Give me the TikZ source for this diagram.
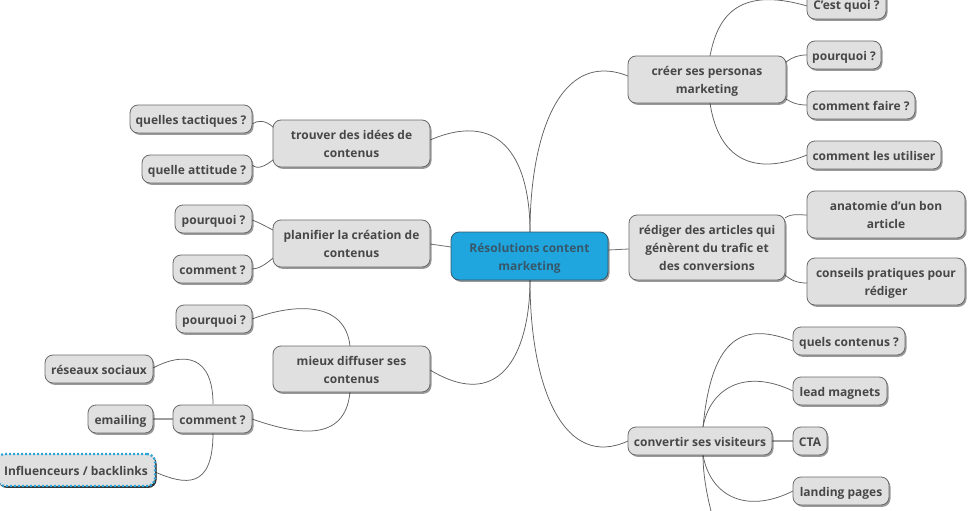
\documentclass[tikz,border=0pt]{standalone}
\usepackage{fontspec}
\setmainfont{Open Sans}
\usetikzlibrary{shadows}
\definecolor{nodefill}{HTML}{E0E0E0}
\definecolor{nodeedge}{HTML}{6A6A6A}
\definecolor{txt}{HTML}{474747}
\definecolor{rootblue}{HTML}{1FA6DE}
\definecolor{roottxt}{HTML}{37576B}
\definecolor{dotblue}{HTML}{2AA5DA}
\tikzset{
  topic/.style={draw=nodeedge,line width=0.8pt,fill=nodefill,rounded corners=8pt,text=txt,
    font=\bfseries\fontsize{12}{18}\selectfont,align=center,inner sep=0pt,
    drop shadow={shadow xshift=1.5pt,shadow yshift=-1.8pt,fill=black,opacity=0.4}},
  rootnode/.style={topic,fill=rootblue,draw=roottxt,text=roottxt},
  selected/.style={topic,draw=dotblue,line width=2.2pt,dash pattern=on 2pt off 2pt,
    drop shadow={shadow xshift=1.5pt,shadow yshift=-1.8pt,fill=black!85,opacity=0.9}},
  link/.style={draw=black!62,line width=0.75pt},
  shortlink/.style={draw=black!38,line width=1.3pt},
  thinlink/.style={draw=black!55,line width=0.8pt}
}
\newcommand{\mm}[7][topic]{%
  \node[#1,minimum width=#5pt-#3pt,minimum height=#6pt-#4pt] (#2) at ({(#3+#5)/2},{(#4+#6)/2})
    {\raisebox{-1.8pt}[\height][\depth]{\begin{tabular}{@{}c@{}}#7\end{tabular}}};}
\begin{document}
\begin{tikzpicture}[x=1pt,y=-1pt]
\useasboundingbox (0,0) rectangle (977,511);
\clip (0,0) rectangle (977,511);
\coordinate (rootN) at (530,232);
\coordinate (rootS) at (530,280);
\coordinate (creerN) at (710,56);
\coordinate (creerS) at (710,103);
\coordinate (cvN) at (703,427);
\coordinate (cvS) at (703,455);
\coordinate (cvEnd) at (711,511);
\coordinate (trW) at (430,140);
\coordinate (miE) at (430,370);
\coordinate (miN) at (350,346);
\coordinate (miS) at (350,392);
\coordinate (coN) at (213,404);
\coordinate (coS) at (213,433);
\draw[link] (rootN) .. controls (530,135) and (560,49) .. (628,76);
\draw[link] (rootS) .. controls (530,390) and (565,470) .. (628,441);
\draw[link] (rootN) .. controls (530,165) and (505,108) .. (trW);
\draw[link] (rootS) .. controls (530,345) and (505,415) .. (miE);
\draw[thinlink] (430,244) -- (451,247);
\draw[thinlink] (608,250) -- (629,249);
\draw[link] (creerN) .. controls (717,20) and (735,-15) .. (807,6);
\draw[link] (786,62) .. controls (793,57) and (798,55) .. (807,55);
\draw[link] (786,99) .. controls (792,103) and (798,105) .. (807,105);
\draw[link] (creerS) .. controls (717,150) and (745,180) .. (807,155);
\draw[link] (785,218) .. controls (792,213) and (798,215) .. (807,215);
\draw[link] (785,275) .. controls (792,281) and (798,283) .. (807,283);
\draw[link] (cvN) .. controls (712,333) and (745,323) .. (793,341);
\draw[link] (cvN) .. controls (710,388) and (745,368) .. (793,391);
\draw[shortlink] (772,441) -- (793,441);
\draw[link] (cvS) .. controls (710,495) and (745,515) .. (793,491);
\draw[link] (cvS) .. controls (703,475) and (707,495) .. (cvEnd);
\draw[link] (252,124) .. controls (258,120) and (265,120) .. (273,127);
\draw[link] (252,165) .. controls (258,170) and (265,166) .. (273,160);
\draw[link] (252,220) .. controls (258,222) and (265,226) .. (273,230);
\draw[link] (252,269) .. controls (258,269) and (265,265) .. (273,258);
\draw[link] (252,319) .. controls (295,303) and (345,301) .. (miN);
\draw[link] (252,419) .. controls (295,434) and (345,444) .. (miS);
\draw[link] (153,368) .. controls (185,351) and (213,356) .. (coN);
\draw[shortlink] (153,419) -- (173,419);
\draw[link] (155,472) .. controls (185,485) and (213,490) .. (coS);
\mm[rootnode]{root}{451}{232}{608}{280}{Résolutions content\\marketing}
\mm{creer}{628}{56}{786}{103}{créer ses personas\\marketing}
\mm{cq}{807}{-10}{886}{19}{C'est quoi ?}
\mm{pqr}{807}{41}{881}{69}{pourquoi ?}
\mm{cf}{807}{91}{915}{119}{comment faire ?}
\mm{cu}{807}{141}{941}{169}{comment les utiliser}
\mm{red}{629}{215}{785}{280}{rédiger des articles qui\\génèrent du trafic et\\des conversions}
\mm{ana}{807}{191}{965}{238}{anatomie d'un bon\\article}
\mm{con}{807}{258}{965}{305}{conseils pratiques pour\\rédiger}
\mm{cv}{628}{427}{772}{455}{convertir ses visiteurs}
\mm{qc}{793}{327}{905}{355}{quels contenus ?}
\mm{lm}{793}{377}{887}{405}{lead magnets}
\mm{cta}{793}{427}{827}{455}{CTA}
\mm{lp}{793}{477}{889}{505}{landing pages}
\mm{tr}{273}{120}{430}{167}{trouver des idées de\\contenus}
\mm{qt}{130}{105}{252}{133}{quelles tactiques ?}
\mm{qa}{142}{155}{252}{183}{quelle attitude ?}
\mm{pl}{273}{220}{430}{267}{planifier la création de\\contenus}
\mm{p1}{175}{205}{252}{233}{pourquoi ?}
\mm{c1}{173}{255}{252}{283}{comment ?}
\mm{mi}{273}{346}{430}{392}{mieux diffuser ses\\contenus}
\mm{p2}{176}{305}{252}{333}{pourquoi ?}
\mm{c2}{173}{405}{252}{433}{comment ?}
\mm{rs}{45}{355}{153}{383}{réseaux sociaux}
\mm{em}{88}{405}{153}{433}{emailing}
\mm[selected]{inf}{-3}{454}{155}{486}{Influenceurs / backlinks}
\end{tikzpicture}
\end{document}
